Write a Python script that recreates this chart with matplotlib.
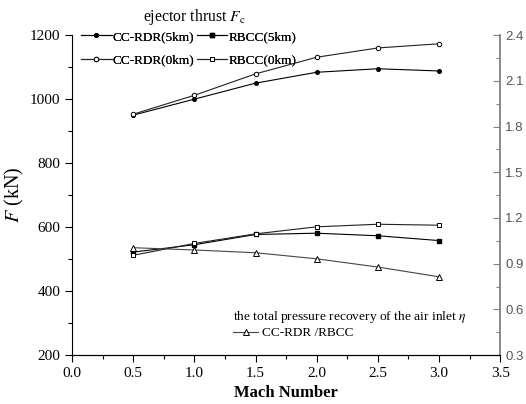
import numpy as np
import matplotlib.pyplot as plt
from matplotlib.ticker import MultipleLocator

plt.rcParams['font.family'] = ['Liberation Serif', 'DejaVu Serif']
plt.rcParams['mathtext.fontset'] = 'stix'

mach = [0.5, 1.0, 1.5, 2.0, 2.5, 3.0]
ccrdr_5km = [950, 1000, 1050, 1084, 1095, 1088]
rbcc_5km = [522, 545, 577, 581, 573, 558]
ccrdr_0km = [953, 1012, 1079, 1131, 1160, 1173]
rbcc_0km = [512, 549, 579, 601, 609, 606]
eta_ratio = [1.005, 0.99, 0.972, 0.932, 0.878, 0.814]

fig = plt.figure(figsize=(5.26, 4.04), dpi=100)
ax = fig.add_axes([0.137, 0.121, 0.814, 0.792])
ax2 = ax.twinx()

lw = 0.8
l1, = ax.plot(mach, ccrdr_5km, color='black', lw=lw, marker='o', ms=2.6,
              mfc='black', mec='black', label='CC-RDR(5km)')
l2, = ax.plot(mach, rbcc_5km, color='black', lw=lw, marker='s', ms=2.8,
              mfc='black', mec='black', label='RBCC(5km)')
l3, = ax.plot(mach, ccrdr_0km, color='#222222', lw=lw, marker='o', ms=3.2,
              mfc='white', mec='black', mew=0.7, label='CC-RDR(0km)')
l4, = ax.plot(mach, rbcc_0km, color='#222222', lw=lw, marker='s', ms=3.2,
              mfc='white', mec='black', mew=0.7, label='RBCC(0km)')
l5, = ax2.plot(mach, eta_ratio, color='#444444', lw=lw, marker='^', ms=3.8,
               mfc='white', mec='black', mew=0.7, label='CC-RDR /RBCC')

ax.set_xlim(0, 3.5)
ax.set_ylim(200, 1200)
ax2.set_ylim(0.3, 2.4)

ax.xaxis.set_major_locator(MultipleLocator(0.5))
ax.xaxis.set_minor_locator(MultipleLocator(0.25))
ax.yaxis.set_major_locator(MultipleLocator(200))
ax.yaxis.set_minor_locator(MultipleLocator(100))
ax2.yaxis.set_major_locator(MultipleLocator(0.3))
ax2.yaxis.set_minor_locator(MultipleLocator(0.15))
ax.xaxis.set_major_formatter(plt.FormatStrFormatter('%.1f'))
ax2.yaxis.set_major_formatter(plt.FormatStrFormatter('%.1f'))

ax.tick_params(axis='both', which='major', direction='out', length=5,
               width=0.8, labelsize=11)
ax.tick_params(axis='both', which='minor', direction='out', length=3, width=0.8)
ax2.tick_params(axis='y', which='major', direction='in', length=5, width=0.8,
                color='#808080', labelcolor='#555555', labelsize=9.5)
ax2.tick_params(axis='y', which='minor', direction='in', length=3, width=0.8,
                color='#808080')
for lab in ax2.get_yticklabels():
    lab.set_family('Liberation Sans')

ax.spines['top'].set_visible(False)
ax2.spines['top'].set_visible(False)
ax2.spines['left'].set_visible(False)
ax.spines['right'].set_visible(False)
ax2.spines['right'].set_color('#808080')
ax2.spines['right'].set_linewidth(1.3)

ax.set_xlabel('Mach Number', fontsize=12, fontweight='bold', labelpad=4)
ax.set_ylabel('$F$ (kN)', fontsize=14.5, labelpad=3)

# top legend: thrust curves, title drawn separately
fig.text(194 / 526, 1 - 17 / 404, 'ejector thrust $F_{\\mathrm{c}}$',
         fontsize=11.3, ha='center', va='center')
leg1 = ax.legend(handles=[l1, l3, l2, l4], ncol=2, loc='upper left',
                 bbox_to_anchor=(0.0, 1.043), frameon=False, fontsize=9.5,
                 handlelength=2.3, handletextpad=0.1, columnspacing=0.15,
                 labelspacing=0.85, borderpad=0.2)
ax.add_artist(leg1)
leg2 = ax2.legend(handles=[l5], loc='lower left',
                  bbox_to_anchor=(0.355, 0.02), frameon=False, fontsize=9.5,
                  title='the total pressure recovery of the air inlet $\\eta$',
                  title_fontsize=9.7, handlelength=1.9, handletextpad=0.25,
                  borderpad=0.2, labelspacing=0.2)
leg2._legend_box.align = 'left'

fig.savefig('out.png', dpi=100)
